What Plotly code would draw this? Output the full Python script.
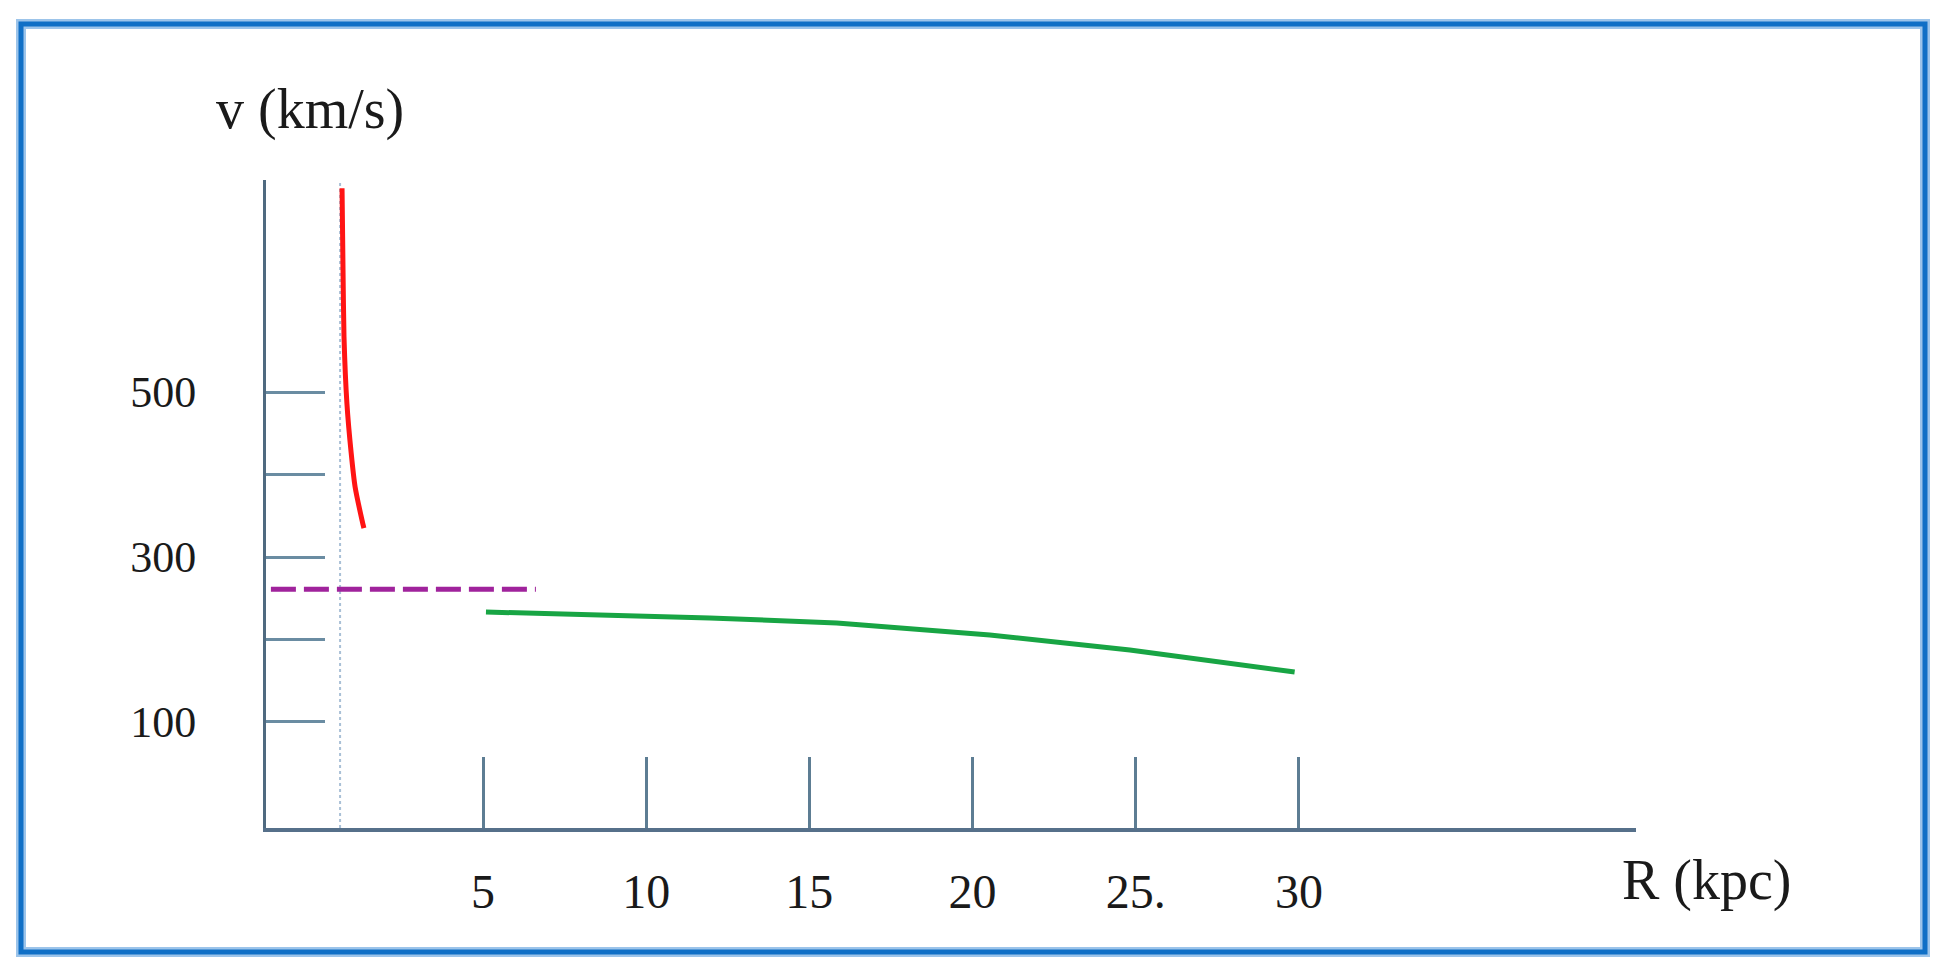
import plotly.graph_objects as go

# ---- data ----
core_r = [0.68, 0.71, 0.74, 0.83, 0.96, 1.08, 1.29, 1.35]
core_v = [747, 648, 567, 486, 426, 385, 345, 335]

flat_r = [-1.50, 6.62]
flat_v = [261, 261]

disk_r = [5.09, 11.95, 15.84, 20.53, 24.82, 29.87]
disk_v = [233.3, 226.1, 220.0, 205.5, 187.3, 160.6]

marker_r = 0.62  # dotted vertical reference

x_tickvals = [5, 10, 15, 20, 25, 30]
x_ticktext = ["5", "10", "15", "20", "25.", "30"]
y_tickvals = [100, 200, 300, 400, 500]
y_ticktext = ["100", "", "300", "", "500"]

x_range = [-1.65, 40.33]
y_range = [-28.5, 757]

FONT = "Liberation Serif, Times New Roman, serif"

fig = go.Figure()

fig.add_trace(go.Scatter(x=[marker_r, marker_r], y=y_range, mode="lines",
                         line=dict(color="#a9c0d6", width=2, dash="dot"),
                         hoverinfo="skip", showlegend=False))
fig.add_trace(go.Scatter(x=flat_r, y=flat_v, mode="lines",
                         line=dict(color="#a0239c", width=5, dash="25px,8px"),
                         showlegend=False))
fig.add_trace(go.Scatter(x=disk_r, y=disk_v, mode="lines",
                         line=dict(color="#18a544", width=5),
                         showlegend=False))
fig.add_trace(go.Scatter(x=core_r, y=core_v, mode="lines",
                         line=dict(color="#ff1414", width=5, shape="spline", smoothing=0.6),
                         showlegend=False))

# page offset from the default <body> margin
OFF = 8
W, H = 1947 - 2 * OFF, 978 - 2 * OFF
PL, PR, PT, PB = 266, 1636, 180, 828   # plot area in page pixels
L, R, T, B = PL - OFF, W - (PR - OFF), PT - OFF, H - (PB - OFF)
pw, ph = W - L - R, H - T - B

def px_x(p):
    return (p - OFF - L) / pw

def px_y(p):
    return (H - B - (p - OFF)) / ph

fig.update_layout(
    width=W, height=H, autosize=False,
    margin=dict(l=L, r=R, t=T, b=B, pad=0),
    paper_bgcolor="white", plot_bgcolor="white",
    font=dict(family=FONT, color="#1a1a1a"),
    showlegend=False,
    xaxis=dict(range=x_range, showgrid=False, zeroline=False,
               showline=True, linecolor="#56708a", linewidth=4,
               tickmode="array", tickvals=x_tickvals, ticktext=x_ticktext,
               ticks="inside", ticklen=71, tickwidth=3, tickcolor="#5d7d93",
               tickfont=dict(size=48, family=FONT, color="#1a1a1a"),
               ticklabelstandoff=18),
    yaxis=dict(range=y_range, showgrid=False, zeroline=False,
               showline=True, linecolor="#4f6a80", linewidth=3,
               tickmode="array", tickvals=y_tickvals, ticktext=y_ticktext,
               ticks="inside", ticklen=59, tickwidth=3, tickcolor="#6a8ca2",
               tickfont=dict(size=44, family=FONT, color="#1a1a1a"),
               ticklabelstandoff=58),
    annotations=[
        dict(text="v (km/s)", xref="paper", yref="paper",
             x=px_x(310), y=px_y(110), xanchor="center", yanchor="middle",
             showarrow=False, font=dict(size=56, family=FONT, color="#1a1a1a")),
        dict(text="R (kpc)", xref="paper", yref="paper",
             x=px_x(1707), y=px_y(880), xanchor="center", yanchor="middle",
             showarrow=False, font=dict(size=56, family=FONT, color="#1a1a1a")),
    ],
    shapes=[
        dict(type="rect", xref="paper", yref="paper",
             x0=px_x(21), x1=px_x(1925), y0=px_y(952), y1=px_y(24),
             line=dict(color="#9cc4ea", width=10), fillcolor="rgba(0,0,0,0)",
             layer="below"),
        dict(type="rect", xref="paper", yref="paper",
             x0=px_x(21), x1=px_x(1925), y0=px_y(952), y1=px_y(24),
             line=dict(color="#0f6fc6", width=5), fillcolor="rgba(0,0,0,0)",
             layer="above"),
    ],
)

fig.write_html("out.html")
